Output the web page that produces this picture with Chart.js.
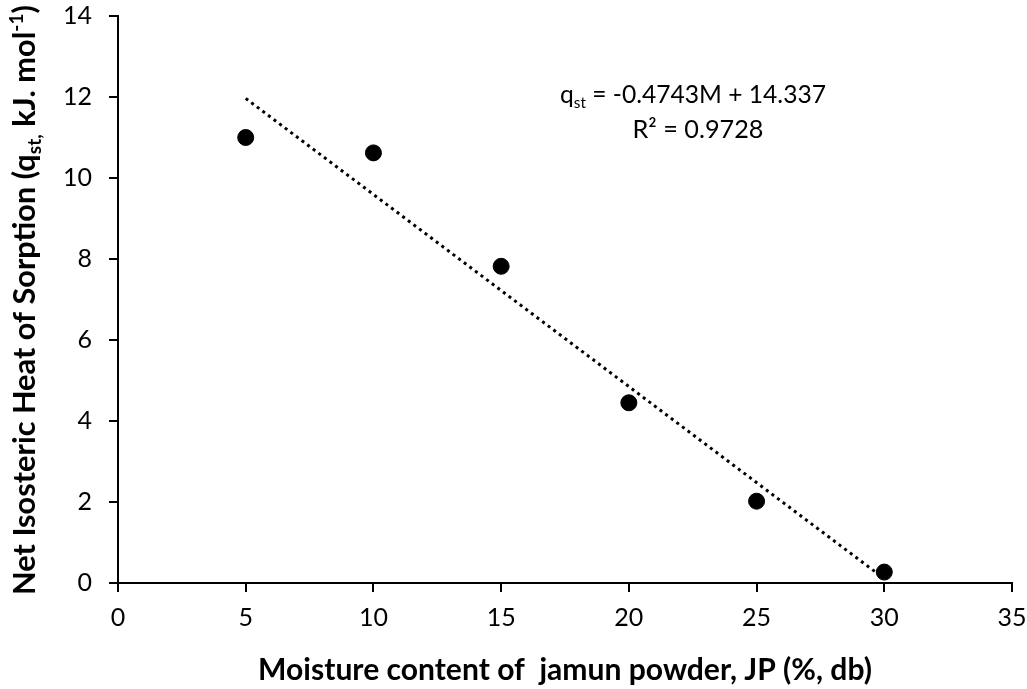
<!DOCTYPE html>
<html>
<head>
<meta charset="utf-8">
<script src="https://cdn.jsdelivr.net/npm/chart.js@4.4.1/dist/chart.umd.min.js"></script>
<style>
  html, body { margin: 0; padding: 0; background: #fff; }
  #wrap { width: 1027px; height: 689px; }
</style>
</head>
<body>
<div id="wrap"><canvas id="c" width="1027" height="689"></canvas></div>
<script>
// ---- data ----
const moisture = [5, 10, 15, 20, 25, 30];
const qst = [11.0, 10.62, 7.82, 4.45, 2.02, 0.27];
const trendX = [5, 30];
const trendY = [11.965, 0.108];
const xTicks = [0, 5, 10, 15, 20, 25, 30, 35];
const yTicks = [0, 2, 4, 6, 8, 10, 12, 14];
const xTitle = 'Moisture content of  jamun powder, JP (%, db)';
const yTitleParts = ['Net Isosteric Heat of Sorption (q', 'st,', ' kJ. mol', '-1', ')'];
const eqParts = ['q', 'st', ' = -0.4743M + 14.337'];
const r2Text = 'R² = 0.9728';

const FONT = 'Lato, "Open Sans", sans-serif';

function runsWidth(ctx, runs, size, weight) {
  let w = 0;
  runs.forEach(r => {
    ctx.font = weight + ' ' + (size * (r.s || 1)) + 'px ' + FONT;
    w += ctx.measureText(r.t).width;
  });
  return w;
}
function drawRuns(ctx, runs, cx, baseline, targetW, weight) {
  const base = 20;
  const w0 = runsWidth(ctx, runs, base, weight);
  const size = base * targetW / w0;
  const w = runsWidth(ctx, runs, size, weight);
  let x = cx - w / 2;
  ctx.textBaseline = 'alphabetic';
  ctx.textAlign = 'left';
  ctx.fillStyle = '#000';
  runs.forEach(r => {
    ctx.font = weight + ' ' + (size * (r.s || 1)) + 'px ' + FONT;
    ctx.fillText(r.t, x, baseline + (r.dy || 0) * size);
    x += ctx.measureText(r.t).width;
  });
}

const textPlugin = {
  id: 'texts',
  afterDraw(chart) {
    const ctx = chart.ctx;
    ctx.save();
    drawRuns(ctx, [{ t: xTitle }], 565, 680, 614, 'bold');
    ctx.save();
    ctx.translate(35, 300);
    ctx.rotate(-Math.PI / 2);
    drawRuns(ctx, [
      { t: yTitleParts[0] },
      { t: yTitleParts[1], s: 0.62, dy: 0.18 },
      { t: yTitleParts[2] },
      { t: yTitleParts[3], s: 0.62, dy: -0.4 },
      { t: yTitleParts[4] }
    ], 0, 0, 590, 'bold');
    ctx.restore();
    drawRuns(ctx, [
      { t: eqParts[0] },
      { t: eqParts[1], s: 0.62, dy: 0.2 },
      { t: eqParts[2] }
    ], 693, 103, 266, 'normal');
    drawRuns(ctx, [{ t: r2Text }], 698, 138, 131, 'normal');
    ctx.restore();
  }
};

function zeroPad(s) {
  s.paddingTop = 0; s.paddingBottom = 0; s.paddingLeft = 0; s.paddingRight = 0;
}

new Chart(document.getElementById('c'), {
  type: 'scatter',
  data: {
    datasets: [
      {
        label: 'Trend',
        type: 'line',
        data: trendX.map((x, i) => ({ x: x, y: trendY[i] })),
        borderColor: '#000',
        borderWidth: 3,
        borderDash: [3, 4],
        pointRadius: 0,
        fill: false,
        order: 2
      },
      {
        label: 'qst',
        data: moisture.map((x, i) => ({ x: x, y: qst[i] })),
        backgroundColor: '#000',
        borderColor: '#000',
        pointRadius: 8,
        pointHoverRadius: 8,
        order: 1
      }
    ]
  },
  options: {
    responsive: false,
    animation: false,
    layout: { padding: { top: 16, right: 15, left: 0, bottom: 0 } },
    plugins: { legend: { display: false }, tooltip: { enabled: false } },
    scales: {
      x: {
        type: 'linear',
        min: 0, max: 35,
        afterBuildTicks: s => { s.ticks = xTicks.map(v => ({ value: v })); },
        afterFit: s => { s.height = 106; zeroPad(s); },
        grid: { drawOnChartArea: false, drawTicks: true, tickLength: 9, color: '#000', lineWidth: 2 },
        border: { display: true, color: '#000', width: 2 },
        ticks: { color: '#000', font: { family: FONT, size: 25 }, padding: 11, maxRotation: 0 }
      },
      y: {
        type: 'linear',
        min: 0, max: 14,
        afterBuildTicks: s => { s.ticks = yTicks.map(v => ({ value: v })); },
        afterFit: s => { s.width = 118; zeroPad(s); },
        grid: { drawOnChartArea: false, drawTicks: true, tickLength: 9, color: '#000', lineWidth: 2 },
        border: { display: true, color: '#000', width: 2 },
        ticks: { color: '#000', font: { family: FONT, size: 25 }, padding: 17 }
      }
    }
  },
  plugins: [textPlugin]
});
</script>
</body>
</html>
